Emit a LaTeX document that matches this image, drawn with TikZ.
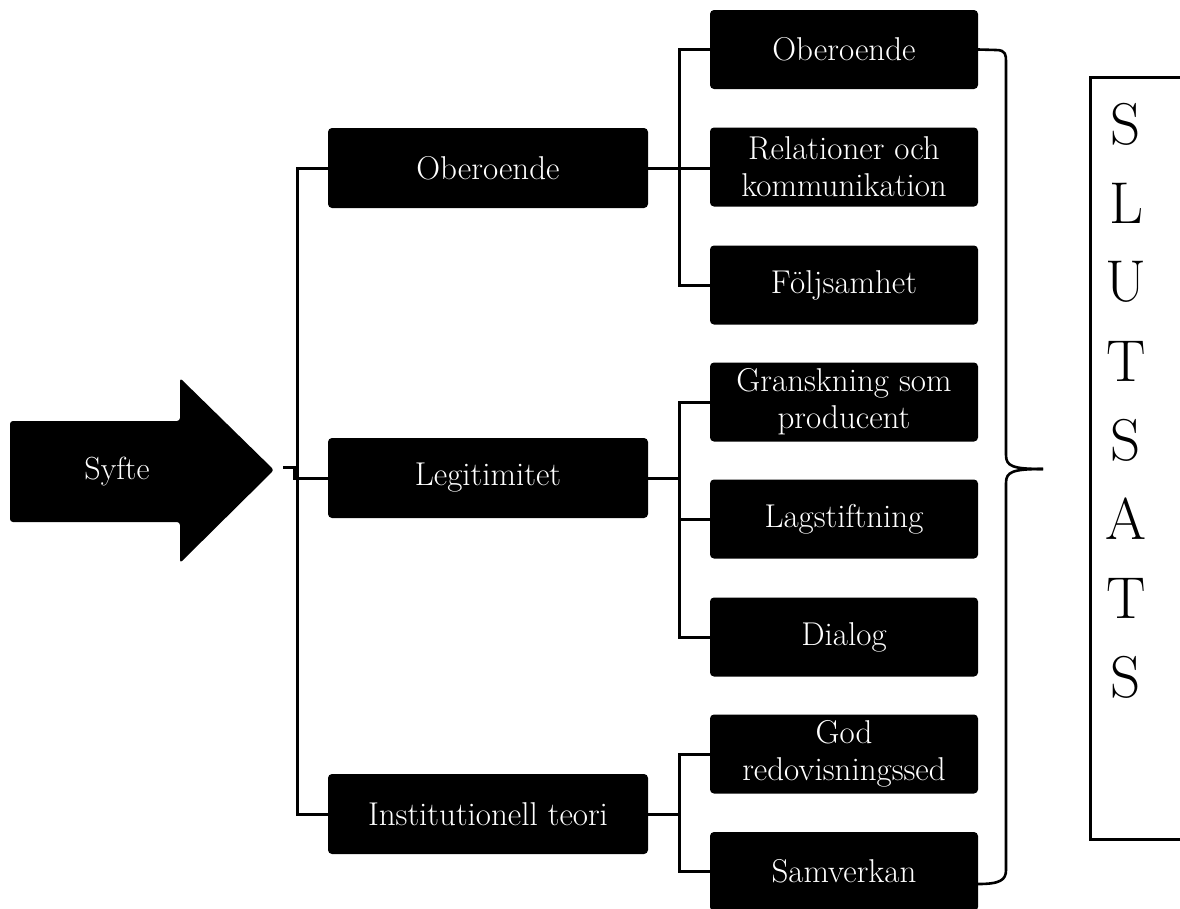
\documentclass[tikz,border=0pt]{standalone}
\usetikzlibrary{calc}
\begin{document}
\begin{tikzpicture}[x=1pt,y=-1pt,
  lone/.style={fill=black, rounded corners=4pt, minimum width=320pt, minimum height=80pt,
    text=white, font=\fontsize{33}{37}\selectfont, align=center, inner sep=0pt},
  ltwo/.style={fill=black, rounded corners=4pt, minimum width=268pt, minimum height=79pt,
    text=white, font=\fontsize{33}{37}\selectfont, align=center, inner sep=0pt},
  conn/.style={draw=black, line width=3pt, line join=miter},
  letter/.style={font=\fontsize{59}{70}\selectfont, inner sep=0pt}]
\useasboundingbox (0,0) rectangle (1180,908);

% Syfte arrow
\fill[black, rounded corners=3pt] (10,421) -- (180,421) -- (180,378) -- (274,470) -- (180,563) -- (180,522) -- (10,522) -- cycle;
\node[text=white, font=\fontsize{32}{37}\selectfont, inner sep=0pt] (syfte) at (117,472) {Syfte};
\coordinate (stub) at (283,467);

% level 1
\node[lone] (ob)   at (488,168) {Oberoende};
\node[lone] (leg)  at (488,478) {Legitimitet};
\node[lone] (inst) at (488,814) {Institutionell teori};

% level 2
\node[ltwo] (r1) at (844,49.5)  {Oberoende};
\node[ltwo] (r2) at (844,167)   {Relationer och\\kommunikation};
\node[ltwo] (r3) at (844,285)   {Följsamhet};
\node[ltwo] (r4) at (844,402)   {Granskning som\\producent};
\node[ltwo] (r5) at (844,519)   {Lagstiftning};
\node[ltwo] (r6) at (844,637)   {Dialog};
\node[ltwo] (r7) at (844,754)   {God\\redovisningssed};
\node[ltwo] (r8) at (844,871.5) {Samverkan};

% main tree
\draw[conn] (ob.west) -- ++(-30,0) |- (inst.west);
\draw[conn] (stub) -- ++(11,0) |- (leg.west);

% group brackets
\draw[conn] (r1.west) -- ++(-30,0) |- (r3.west);
\draw[conn] (ob.east) -- (ob.east -| r2.west);
\draw[conn] (r4.west) -- ++(-30,0) |- (r6.west);
\draw[conn] (r5.west) -- ++(-30,0);
\draw[conn] (leg.east) -- ++(32,0);
\draw[conn] (r7.west) -- ++(-30,0) |- (r8.west);
\draw[conn] (inst.east) -- ++(32,0);

% right brace
\coordinate (cusp) at (1043,469);
\draw[line width=2.6pt] (r1.east) -- (996,50) .. controls (1006,50) and (1006,55) .. (1006,62)
  -- (1006,455) .. controls (1006,466) and (1012,469) .. (cusp);
\draw[line width=2.6pt] (cusp) .. controls (1012,469) and (1006,472) .. (1006,483)
  -- (1006,870) .. controls (1006,880) and (1000,884) .. ($(r8.east)+(0,12.5)$);

% SLUTSATS
\node[draw=black, line width=2.6pt, minimum width=96pt, minimum height=762pt, inner sep=0pt, anchor=north west] (slbox) at (1089,76) {};
\foreach \c [count=\i] in {S,L,U,T,S,A,T,S}
  \node[letter] (sl\i) at (1126,{124+79*(\i-1)}) {\c};
\end{tikzpicture}
\end{document}
